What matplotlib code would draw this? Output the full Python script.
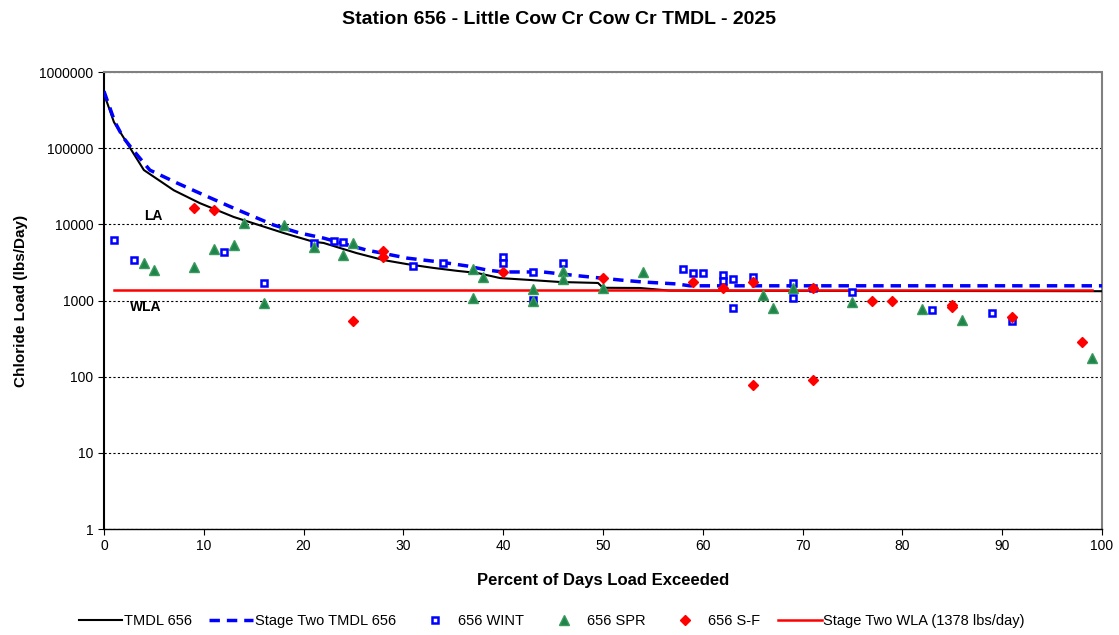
import matplotlib
matplotlib.use("Agg")
import matplotlib.pyplot as plt

plt.rcParams['font.family'] = ['Liberation Sans', 'DejaVu Sans']

# TMDL duration curve (percent exceeded, lbs/day)
tmdl_pct = [0, 1, 4, 7, 9.6, 13, 18, 21, 22, 25.3, 28, 30.4, 33, 35.4, 37.4, 39.7,
            42.7, 45.7, 49.5, 50, 53.7, 56.7, 60, 70, 80, 90, 100]
tmdl_load = [520000, 220000, 51600, 28000, 19000, 12500, 7700, 5900, 5700, 4200, 3400,
             3000, 2680, 2450, 2300, 1970, 1860, 1750, 1700, 1470, 1460, 1350, 1345,
             1340, 1335, 1330, 1325]

stage2_pct = [0, 1.1, 1.9, 2.9, 4.6, 7.3, 10, 13, 17, 19.6, 22, 26.3, 30.4, 33.7,
              36.4, 38.4, 40, 44, 47.7, 51.7, 54, 57.4, 58.7, 100]
stage2_load = [560000, 220000, 140000, 95000, 51500, 35000, 24300, 16300, 9800, 7700,
               6600, 4600, 3600, 3200, 2840, 2510, 2370, 2370, 2100, 1860, 1750, 1650,
               1560, 1560]

wint_pct = [1, 3, 12, 16, 21, 23, 24, 31, 34, 40, 40, 43, 43, 46, 58, 59, 60, 62, 62,
            63, 63, 65, 69, 69, 71, 75, 83, 89, 91]
wint_load = [6200, 3400, 4330, 1700, 5700, 6030, 5870, 2840, 3100, 3720, 3100, 2370,
             1015, 3100, 2590, 2300, 2300, 2160, 1800, 1915, 800, 2030, 1700, 1080,
             1460, 1290, 750, 685, 540]

spr_pct = [4, 5, 9, 11, 13, 14, 16, 18, 21, 24, 25, 37, 37, 38, 43, 43, 46, 46, 50,
           54, 66, 67, 69, 75, 82, 86, 99]
spr_load = [3100, 2500, 2760, 4740, 5350, 10400, 930, 9700, 5030, 3950, 5690, 2590,
            1080, 2040, 1420, 1000, 2440, 1915, 1460, 2370, 1180, 800, 1460, 955, 773,
            555, 176]

sf_pct = [9, 11, 25, 28, 28, 40, 50, 59, 62, 65, 65, 71, 71, 77, 79, 85, 85, 91, 98]
sf_load = [16400, 15400, 540, 4470, 3720, 2370, 1970, 1740, 1460, 1740, 78, 1460, 90,
           980, 980, 880, 830, 605, 285]

wla_pct = [1, 99]
wla_load = [1378, 1378]

y_ticks = [1, 10, 100, 1000, 10000, 100000, 1000000]
y_labels = ['1', '10', '100', '1000', '10000', '100000', '1000000']
x_ticks = [0, 10, 20, 30, 40, 50, 60, 70, 80, 90, 100]

fig = plt.figure(figsize=(11.19, 6.35), dpi=100)
ax = fig.add_axes([0.0929, 0.1669, 0.8919, 0.7197])

ax.plot(tmdl_pct, tmdl_load, color='black', lw=1.5, label='TMDL 656', zorder=3)
ax.plot(stage2_pct, stage2_load, color='#0000FF', lw=2.5, ls=(0, (3, 2)),
        label='Stage Two TMDL 656', zorder=3)
ax.plot(wint_pct, wint_load, ls='none', marker='s', ms=5, mfc='white', mec='#0000FF',
        mew=1.8, label='656 WINT', zorder=4)
ax.plot(spr_pct, spr_load, ls='none', marker='^', ms=6.5, color='#1E8449', mec='#3A9A5E',
        label='656 SPR', zorder=4)
ax.plot(sf_pct, sf_load, ls='none', marker='D', ms=5.5, color='#FF0000',
        label='656 S-F', zorder=4)
ax.plot(wla_pct, wla_load, color='#FF0000', lw=1.8, label='Stage Two WLA (1378 lbs/day)',
        zorder=3)

ax.set_yscale('log')
ax.set_xlim(0, 100)
ax.set_ylim(1, 1000000)
ax.set_yticks(y_ticks)
ax.set_yticklabels(y_labels)
ax.minorticks_off()
ax.set_xticks(x_ticks)
ax.tick_params(labelsize=10, direction='out', length=4)
ax.yaxis.grid(True, color='black', ls=(0, (2, 2)), lw=0.8)

for side in ['top', 'right']:
    ax.spines[side].set_color('#808080')
    ax.spines[side].set_linestyle((0, (1, 1)))
    ax.spines[side].set_linewidth(1.5)
ax.spines['left'].set_linewidth(1.5)
ax.spines['bottom'].set_linewidth(1.0)

ax.text(4.0, 13000, 'LA', fontsize=10, fontweight='bold', ha='left', va='center')
ax.text(2.6, 820, 'WLA', fontsize=10, fontweight='bold', ha='left', va='center')

ax.set_xlabel('Percent of Days Load Exceeded', fontsize=12, fontweight='bold', labelpad=14)
ax.set_ylabel('Chloride Load (lbs/Day)', fontsize=11, fontweight='bold', labelpad=8)
fig.suptitle('Station 656 - Little Cow Cr Cow Cr TMDL - 2025', fontsize=14,
             fontweight='bold', x=0.5, y=0.982)

fig.legend(loc='lower center', bbox_to_anchor=(0.493, -0.01), ncol=6, frameon=False,
           fontsize=10.5, handlelength=3, columnspacing=1.2, handletextpad=0.1)

fig.savefig('out.png', dpi=100)
